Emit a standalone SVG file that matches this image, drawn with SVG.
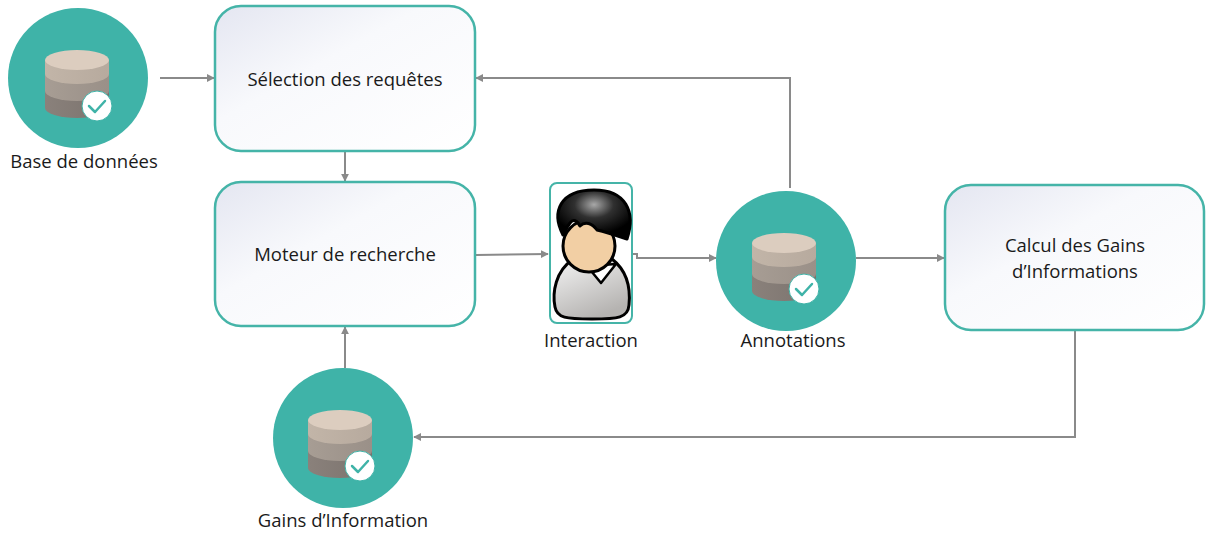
<svg xmlns="http://www.w3.org/2000/svg" xmlns:xlink="http://www.w3.org/1999/xlink" width="1207" height="533" viewBox="0 0 1207 533">
  <style>
    .box { stroke: #45b4a8; stroke-width: 2.5; fill: url(#boxFill); }
    .disc { fill: #3fb3a8; }
    .lbl { font-family: "Open Sans", "Noto Sans", sans-serif; font-size: 18.5px; fill: #1a1a1a; text-anchor: middle; }
    .wire { fill: none; stroke: #8a8a8a; stroke-width: 2; }
    .outline { stroke: #000; stroke-width: 3; stroke-linejoin: round; }
  </style>
  <defs>
    <linearGradient id="boxFill" x1="0" y1="0" x2="1" y2="1">
      <stop offset="0" stop-color="#e4e6f1"/>
      <stop offset="0.4" stop-color="#f8f9fc"/>
      <stop offset="1" stop-color="#ffffff"/>
    </linearGradient>
    <linearGradient id="band1" x1="0" y1="0" x2="1" y2="0">
      <stop offset="0" stop-color="#c2b5a8"/>
      <stop offset="1" stop-color="#b7aa9e"/>
    </linearGradient>
    <linearGradient id="band2" x1="0" y1="0" x2="1" y2="0">
      <stop offset="0" stop-color="#a79d94"/>
      <stop offset="1" stop-color="#9a9088"/>
    </linearGradient>
    <linearGradient id="band3" x1="0" y1="0" x2="1" y2="0">
      <stop offset="0" stop-color="#8a817b"/>
      <stop offset="1" stop-color="#7b736e"/>
    </linearGradient>
    <radialGradient id="hairFill" cx="0.5" cy="0.3" r="0.6">
      <stop offset="0" stop-color="#a8a8a8"/>
      <stop offset="0.45" stop-color="#303030"/>
      <stop offset="1" stop-color="#000"/>
    </radialGradient>
    <linearGradient id="shirtFill" x1="0" y1="0" x2="0.5" y2="1">
      <stop offset="0" stop-color="#f4f4f4"/>
      <stop offset="1" stop-color="#b5b3b1"/>
    </linearGradient>
    <marker id="arrow" viewBox="0 0 10 10" refX="9" refY="5" markerWidth="4" markerHeight="4" orient="auto">
      <path d="M0,0 L10,5 L0,10 Z" fill="#8a8a8a"/>
    </marker>
    <!-- database cylinder with check badge, origin at disc centre -->
    <g id="dbIcon">
      <path d="M-32,-20 L-32,28 A32,10 0 0 0 32,28 L32,-20 Z" fill="url(#band3)"/>
      <path d="M-32,-20 L-32,11 A32,10 0 0 0 32,11 L32,-20 Z" fill="url(#band2)"/>
      <path d="M-32,-20 L-32,-6 A32,10 0 0 0 32,-6 L32,-20 Z" fill="url(#band1)"/>
      <ellipse cx="0" cy="-20" rx="32" ry="10" fill="#dccdbf"/>
      <circle cx="20" cy="26" r="15" fill="#ffffff" stroke="#3fb3a8" stroke-width="1"/>
      <path d="M12,26 L18,32 L28,21" fill="none" stroke="#3fb3a8" stroke-width="2.5" stroke-linecap="round" stroke-linejoin="round"/>
    </g>
  </defs>

  <!-- connectors -->
  <g id="connectors">
    <path class="wire" d="M160,78 L214,78" marker-end="url(#arrow)"/>
    <path class="wire" d="M790,188 L790,78 L476,78" marker-end="url(#arrow)"/>
    <path class="wire" d="M345,152 L345,181" marker-end="url(#arrow)"/>
    <path class="wire" d="M476,255 L548,254" marker-end="url(#arrow)"/>
    <path class="wire" d="M633,254 L637,254 L637,258 L716,258" marker-end="url(#arrow)"/>
    <path class="wire" d="M856,258 L944,258" marker-end="url(#arrow)"/>
    <path class="wire" d="M1075,331 L1075,437 L414,437" marker-end="url(#arrow)"/>
    <path class="wire" d="M345,368 L345,327" marker-end="url(#arrow)"/>
  </g>

  <g id="base-de-donnees">
    <circle class="disc" cx="78" cy="78" r="70"/>
    <use xlink:href="#dbIcon" transform="translate(77,80)"/>
    <text class="lbl" x="84" y="168">Base de données</text>
  </g>

  <g id="selection-requetes">
    <rect class="box" x="215" y="6" width="260" height="145" rx="26"/>
    <text class="lbl" x="345" y="86">Sélection des requêtes</text>
  </g>

  <g id="moteur-recherche">
    <rect class="box" x="215" y="182" width="260" height="144" rx="26"/>
    <text class="lbl" x="345" y="261">Moteur de recherche</text>
  </g>

  <g id="interaction">
    <rect x="550" y="183" width="82" height="140" rx="7" fill="#ffffff" stroke="#45b4a8" stroke-width="2"/>
    <!-- shirt -->
    <path class="outline" d="M572,260 C556,271 552,292 555,307 C557,318 566,319 592,319 C618,319 628,318 629,305 C631,285 626,270 612,259 Z" fill="url(#shirtFill)"/>
    <!-- collar -->
    <path d="M587,266 L601,283 L616,264 Z" fill="#ffffff" stroke="#000" stroke-width="2.5" stroke-linejoin="round"/>
    <!-- face -->
    <ellipse class="outline" cx="589" cy="246" rx="26" ry="26" fill="#f2cfa4"/>
    <!-- hair -->
    <path class="outline" d="M563,235 C551,212 560,190 594,190 C626,190 636,212 627,239 C618,236 606,232 597,230 C592,223 585,221 580,226 C577,220 573,219 570,223 C567,227 565,231 563,235 Z" fill="url(#hairFill)"/>
    <text class="lbl" x="591" y="347">Interaction</text>
  </g>

  <g id="annotations">
    <circle class="disc" cx="786" cy="261" r="70"/>
    <use xlink:href="#dbIcon" transform="translate(784,263)"/>
    <text class="lbl" x="793" y="347">Annotations</text>
  </g>

  <g id="calcul-gains">
    <rect class="box" x="945" y="185" width="259" height="145" rx="26"/>
    <text class="lbl" x="1075" y="252">Calcul des Gains</text>
    <text class="lbl" x="1075" y="278">d’Informations</text>
  </g>

  <g id="gains-information">
    <circle class="disc" cx="343" cy="438" r="70"/>
    <use xlink:href="#dbIcon" transform="translate(340,440)"/>
    <text class="lbl" x="343" y="527">Gains d’Information</text>
  </g>
</svg>
